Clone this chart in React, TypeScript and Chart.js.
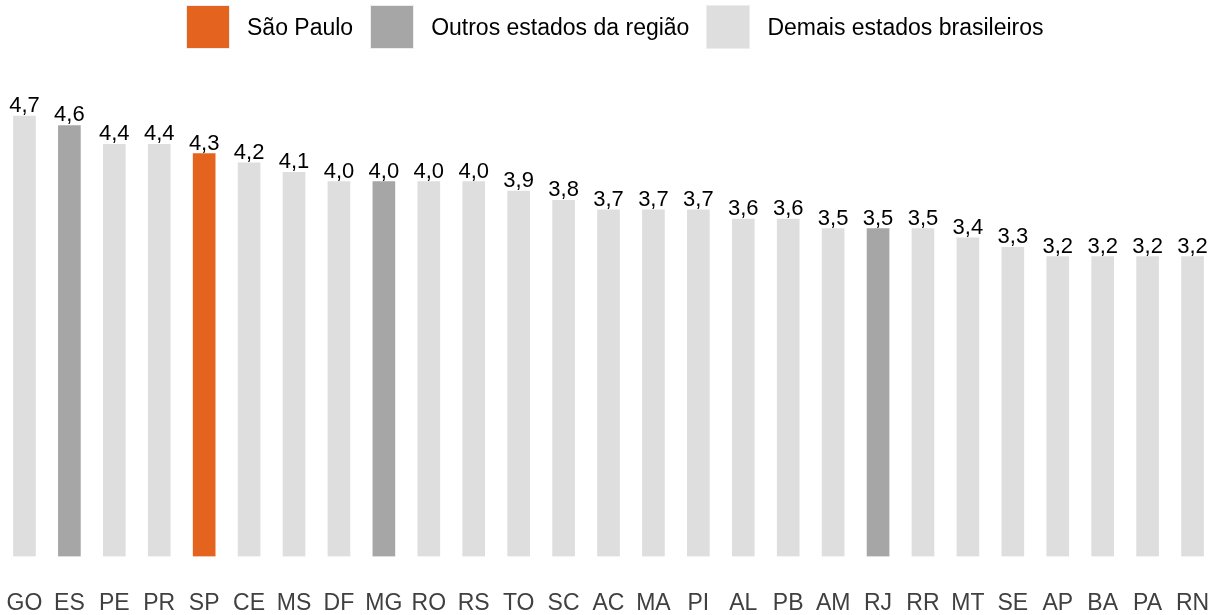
import React, { useEffect, useRef } from "react";
import { Chart, registerables } from "chart.js";

Chart.register(...registerables);

const states = ["GO","ES","PE","PR","SP","CE","MS","DF","MG","RO","RS","TO","SC","AC","MA","PI","AL","PB","AM","RJ","RR","MT","SE","AP","BA","PA","RN"];
const values = [4.7,4.6,4.4,4.4,4.3,4.2,4.1,4.0,4.0,4.0,4.0,3.9,3.8,3.7,3.7,3.7,3.6,3.6,3.5,3.5,3.5,3.4,3.3,3.2,3.2,3.2,3.2];
const highlight = ["SP"];
const region = ["ES","MG","RJ"];
const legendLabels = ["São Paulo", "Outros estados da região", "Demais estados brasileiros"];
const COLOR_SP = "#E4641F";
const COLOR_REGION = "#A6A6A6";
const COLOR_OTHER = "#DEDEDE";
const legendColors = [COLOR_SP, COLOR_REGION, COLOR_OTHER];

const FONT = "'Liberation Sans', Arial, sans-serif";

const valueLabels = {
  id: "valueLabels",
  afterDatasetsDraw(chart: any) {
    const ctx = chart.ctx;
    const meta = chart.getDatasetMeta(0);
    ctx.save();
    ctx.font = `22px ${FONT}`;
    ctx.fillStyle = "#000000";
    ctx.textAlign = "center";
    ctx.textBaseline = "alphabetic";
    meta.data.forEach((bar: any, i: number) => {
      const txt = values[i].toFixed(1).replace(".", ",");
      ctx.fillText(txt, bar.x, bar.y - 4);
    });
    ctx.restore();
  },
};

export default function App() {
  const ref = useRef<HTMLCanvasElement>(null);
  useEffect(() => {
    document.body.style.margin = "0";
    document.body.style.overflow = "hidden";
    const colors = states.map((s) =>
      highlight.includes(s) ? COLOR_SP : region.includes(s) ? COLOR_REGION : COLOR_OTHER
    );
    const chart = new Chart(ref.current!, {
      type: "bar",
      data: {
        labels: states,
        datasets: [
          {
            data: values,
            backgroundColor: colors,
            borderWidth: 0,
            barThickness: 22,
          },
        ],
      },
      options: {
        animation: false,
        responsive: false,
        devicePixelRatio: 1,
        layout: { padding: { top: 88, left: 2, right: 0, bottom: -2 } },
        plugins: { legend: { display: false }, tooltip: { enabled: false } },
        scales: {
          x: {
            grid: { display: false, drawTicks: true, tickLength: 33 },
            border: { display: false },
            ticks: {
              padding: 0,
              color: "#404040",
              font: { family: FONT, size: 23 },
              minRotation: 0,
              maxRotation: 0,
              autoSkip: false,
            },
          },
          y: {
            display: false,
            min: 0,
            max: 5,
          },
        },
      },
      plugins: [valueLabels],
    });
    return () => chart.destroy();
  }, []);

  return (
    <div style={{ position: "relative", width: 1211, height: 615, overflow: "hidden" }}>
      <canvas ref={ref} width={1215} height={615} style={{ display: "block", width: 1215, height: 615 }} />
      <div
        style={{
          position: "absolute",
          left: 186,
          top: 5,
          display: "flex",
          alignItems: "center",
          fontFamily: FONT,
          fontSize: 23,
          color: "#000",
          whiteSpace: "nowrap",
        }}
      >
        {legendLabels.map((l, i) => (
          <div key={l} style={{ display: "flex", alignItems: "center", marginRight: 17 }}>
            <div
              style={{
                width: 42,
                height: 42,
                background: legendColors[i],
                border: "1px solid #EDEDED",
                marginRight: 17,
              }}
            />
            <span>{l}</span>
          </div>
        ))}
      </div>
    </div>
  );
}
